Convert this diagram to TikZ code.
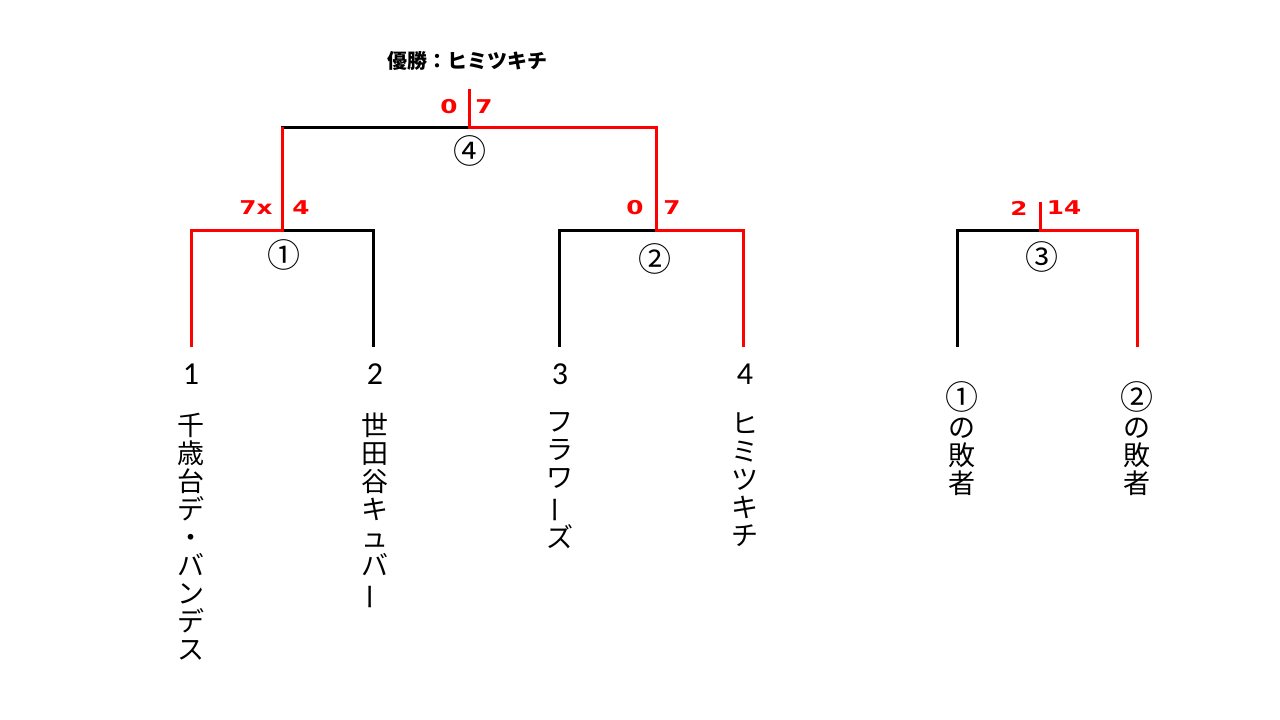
\documentclass[tikz,border=0pt]{standalone}
\usepackage{fontspec}
\usepackage{graphicx}
\setmainfont{Carlito}
\newfontfamily\jp{Noto Sans CJK JP}
\newfontfamily\scfont{DejaVu Sans}
\usetikzlibrary{positioning}
\newcommand{\tbar}{\rotatebox[origin=c]{90}{ー}}
\newcommand{\widesc}[1]{\scalebox{1.3}[1]{#1}}
\newcommand{\bigc}[1]{{\fontsize{33}{28}\selectfont #1}}

\begin{document}
\begin{tikzpicture}[x=1pt,y=-1pt,
 ln/.style={line width=3pt},
 wline/.style={ln,red},
 sc/.style={text=red,font=\scfont\bfseries\fontsize{19}{22}\selectfont,inner sep=0pt},
 mno/.style={font=\jp\fontsize{33}{34}\selectfont,inner sep=0pt},
 seed/.style={font=\fontsize{32}{34}\selectfont,inner sep=0pt},
 team/.style={font=\jp\fontsize{27}{28}\selectfont,align=center,inner sep=0pt,anchor=north}]
\useasboundingbox (0,0) rectangle (1280,720);
% leg ends and match points
\coordinate (a1) at (191,347); \coordinate (a2) at (373,347);
\coordinate (a3) at (559,347); \coordinate (a4) at (743,347);
\coordinate (a5) at (957,347); \coordinate (a6) at (1137,347);
\coordinate (m1) at (282,230); \coordinate (m2) at (656,230);
\coordinate (m3) at (1040,230); \coordinate (m4) at (469,127);
\coordinate (top) at (469,89); \coordinate (t3) at (1040,202);
% bracket
\draw[ln] (a1) |- (m1) -| (a2);
\draw[ln] (a3) |- (m2) -| (a4);
\draw[ln] (a5) |- (m3) -| (a6);
\draw[ln] (m1) |- (m4) -| (m2);
% winners
\draw[wline] (a1) |- (m1) -- (m1 |- m4);
\draw[wline] (a4) |- (m2) |- (m4) -- (top);
\draw[wline] (a6) |- (m3) -- (t3);
% scores
\node[sc] (s1a) at (256,208) {\widesc{7x}};
\node[sc] (s1b) at (301,208) {\widesc{4}};
\node[sc] (s2a) at (635,208) {\widesc{0}};
\node[sc] (s2b) at (672,208) {\widesc{7}};
\node[sc] (s3a) at (1019,208) {\widesc{2}};
\node[sc] (s3b) at (1064,208) {\widesc{14}};
\node[sc] (s4a) at (449,107) {\widesc{0}};
\node[sc] (s4b) at (484,107) {\widesc{7}};
% match numbers
\node[mno] (c1) at (284,255) {①};
\node[mno] (c2) at (655,259) {②};
\node[mno] (c3) at (1042,257) {③};
\node[mno] (c4) at (470,151) {④};
\node[font=\jp\bfseries\fontsize{20}{22}\selectfont] (champ) at (467,61) {優勝：ヒミツキチ};
% teams
\node[seed] (n1) at (191,374) {1};
\node[seed] (n2) at (375,374) {2};
\node[seed] (n3) at (560,374) {3};
\node[seed] (n4) at (745,374) {4};
\node[team,below=28pt of n1] (p1) {千\\歳\\台\\デ\\・\\バ\\ン\\デ\\ス};
\node[team,below=28pt of n2] (p2) {世\\田\\谷\\キ\\ュ\\バ\\\tbar};
\node[team,below=28pt of n3] (p3) {フ\\ラ\\ワ\\\tbar\\ズ};
\node[team,below=28pt of n4] (p4) {ヒ\\ミ\\ツ\\キ\\チ};
\node[team] (p5) at (962,381) {\bigc{①}\\の\\敗\\者};
\node[team] (p6) at (1137,381) {\bigc{②}\\の\\敗\\者};
\end{tikzpicture}
\end{document}
